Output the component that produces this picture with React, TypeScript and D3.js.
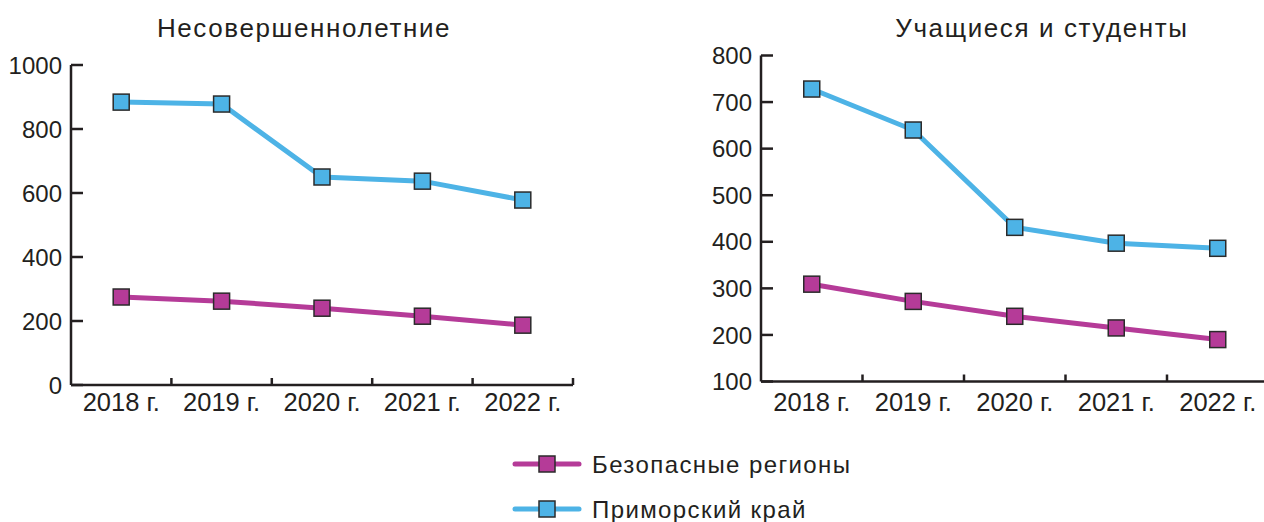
import { useEffect, useRef } from 'react';
import * as d3 from 'd3';

const years = ['2018 г.', '2019 г.', '2020 г.', '2021 г.', '2022 г.'];

// Несовершеннолетние
const minorsSafe = [275, 262, 240, 215, 187];
const minorsPrimorye = [884, 878, 650, 637, 578];
const minorsTicks = [0, 200, 400, 600, 800, 1000];

// Учащиеся и студенты
const studentsSafe = [309, 272, 240, 215, 190];
const studentsPrimorye = [728, 640, 431, 397, 386];
const studentsTicks = [100, 200, 300, 400, 500, 600, 700, 800];

const seriesNames = ['Безопасные регионы', 'Приморский край'];
const MAGENTA = '#b53b98';
const BLUE = '#4db3e6';
const INK = '#231f20';
const FONT = '"Liberation Sans", Arial, sans-serif';
const W = 1264;
const H = 522;

function drawPanel(g, opts) {
  const { x0, x1, yTop, yBottom, domain, ticks, title, titleX, safe, primorye } = opts;

  const x = d3.scaleBand().domain(years).range([x0, x1]);
  const y = d3.scaleLinear().domain(domain).range([yBottom, yTop]);
  const cx = (yr) => x(yr) + x.bandwidth() / 2;

  g.append('text')
    .attr('x', titleX)
    .attr('y', 37)
    .attr('text-anchor', 'middle')
    .attr('font-size', 26)
    .attr('letter-spacing', 1.6)
    .attr('fill', INK)
    .text(title);

  // y axis
  g.append('line')
    .attr('x1', x0).attr('x2', x0)
    .attr('y1', y(domain[1])).attr('y2', yBottom)
    .attr('stroke', INK).attr('stroke-width', 2.5);
  ticks.forEach((t) => {
    g.append('line')
      .attr('x1', x0).attr('x2', x0 + 12)
      .attr('y1', y(t)).attr('y2', y(t))
      .attr('stroke', INK).attr('stroke-width', 2.5);
    g.append('text')
      .attr('x', x0 - 9)
      .attr('y', y(t))
      .attr('dy', '0.36em')
      .attr('text-anchor', 'end')
      .attr('font-size', 24)
      .attr('fill', INK)
      .text(t);
  });

  // x axis (clipped at the page edge)
  g.append('line')
    .attr('x1', x0).attr('x2', Math.min(x1, W))
    .attr('y1', yBottom).attr('y2', yBottom)
    .attr('stroke', INK).attr('stroke-width', 2.5);
  years.forEach((yr) => {
    const bx = x(yr) + x.bandwidth();
    if (bx <= W) {
      g.append('line')
        .attr('x1', bx).attr('x2', bx)
        .attr('y1', yBottom).attr('y2', yBottom - 7)
        .attr('stroke', INK).attr('stroke-width', 2.5);
    }
    g.append('text')
      .attr('x', cx(yr))
      .attr('y', 411)
      .attr('text-anchor', 'middle')
      .attr('font-size', 25.5)
      .attr('fill', INK)
      .text(yr);
  });

  const line = d3.line()
    .x((d, i) => cx(years[i]))
    .y((d) => y(d));

  [[safe, MAGENTA], [primorye, BLUE]].forEach(([vals, color]) => {
    g.append('path')
      .attr('d', line(vals))
      .attr('fill', 'none')
      .attr('stroke', color)
      .attr('stroke-width', 5);
    vals.forEach((v, i) => {
      g.append('rect')
        .attr('x', cx(years[i]) - 8)
        .attr('y', y(v) - 8)
        .attr('width', 16)
        .attr('height', 16)
        .attr('fill', color)
        .attr('stroke', '#2b2b2b')
        .attr('stroke-width', 1.5);
    });
  });
}

export default function App() {
  const svgRef = useRef(null);

  useEffect(() => {
    const svg = d3.select(svgRef.current);
    svg.selectAll('*').remove();
    svg.attr('font-family', FONT);

    drawPanel(svg.append('g'), {
      x0: 71, x1: 573, yTop: 65, yBottom: 385,
      domain: [0, 1000], ticks: minorsTicks,
      title: 'Несовершеннолетние', titleX: 304,
      safe: minorsSafe, primorye: minorsPrimorye,
    });

    drawPanel(svg.append('g'), {
      x0: 761, x1: 1268.5, yTop: 55.5, yBottom: 381.5,
      domain: [100, 800], ticks: studentsTicks,
      title: 'Учащиеся и студенты', titleX: 1042,
      safe: studentsSafe, primorye: studentsPrimorye,
    });

    // legend
    const legend = svg.append('g');
    [MAGENTA, BLUE].forEach((color, i) => {
      const ly = 464 + i * 45;
      legend.append('line')
        .attr('x1', 515).attr('x2', 579)
        .attr('y1', ly).attr('y2', ly)
        .attr('stroke', color).attr('stroke-width', 5)
        .attr('stroke-linecap', 'round');
      legend.append('rect')
        .attr('x', 539).attr('y', ly - 8)
        .attr('width', 16).attr('height', 16)
        .attr('fill', color)
        .attr('stroke', '#2b2b2b').attr('stroke-width', 1.5);
      legend.append('text')
        .attr('x', 592).attr('y', ly)
        .attr('dy', '0.36em')
        .attr('font-size', 24)
        .attr('letter-spacing', 1.4)
        .attr('fill', INK)
        .text(seriesNames[i]);
    });
  }, []);

  return (
    <svg
      ref={svgRef}
      width={W}
      height={H}
      style={{ position: 'absolute', left: 0, top: 0, background: '#fff' }}
    />
  );
}
